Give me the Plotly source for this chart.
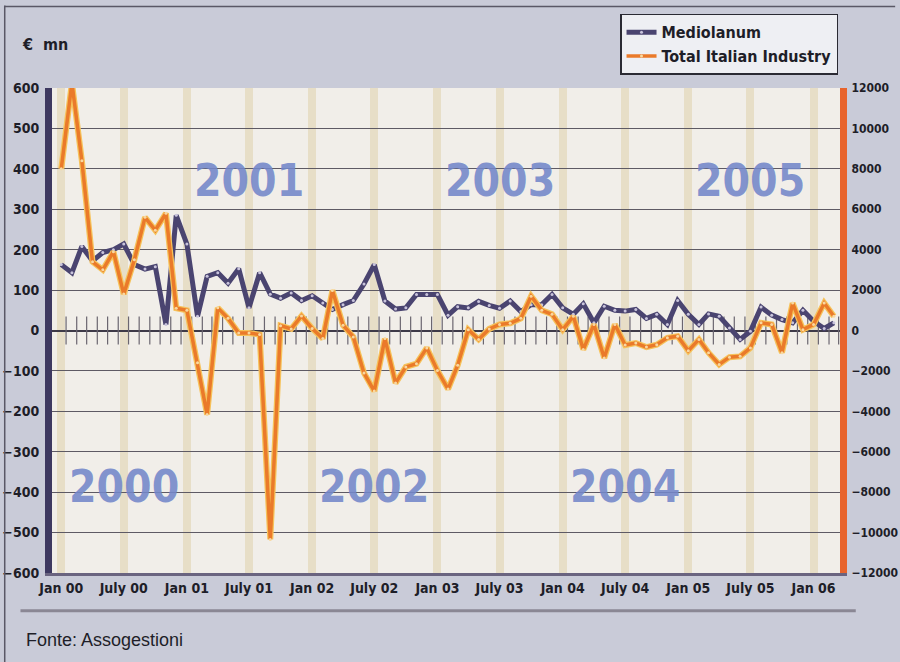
import pandas as pd
import plotly.graph_objects as go

# ---- data (Jan 2000 .. Mar 2006, monthly net flows, € mn) ----
months = pd.date_range("2000-01-01", "2006-03-01", freq="MS")

mediolanum = [163, 143, 208, 172, 193, 200, 214, 163, 152, 158, 15, 285,
              214, 35, 134, 143, 117, 153, 56, 143, 90, 80, 93, 74,
              86, 68, 52, 64, 74, 115, 163, 73, 53, 56, 89, 89,
              89, 38, 59, 56, 72, 62, 55, 73, 47, 64, 64, 89,
              56, 40, 66, 19, 60, 50, 48, 52, 30, 40, 15, 74,
              40, 15, 41, 35, 6, -22, -2, 58, 38, 27, 19, 50,
              23, 5, 19]

total_industry = [8000, 12260, 8400, 3400, 3000, 3900, 1800, 3500, 5600, 4960, 5800, 1100,
                  1000, -1600, -4160, 1120, 600, -120, -120, -200, -10340, 240, 80, 720,
                  100, -400, 1980, 260, -320, -2100, -3000, -400, -2600, -1800, -1640, -860,
                  -1980, -2900, -1720, 40, -440, 80, 300, 360, 600, 1700, 1000, 800,
                  40, 700, -940, 300, -1360, 300, -720, -620, -820, -700, -360, -280,
                  -1000, -440, -1100, -1680, -1320, -1280, -860, 380, 300, -1100, 1360, 40,
                  300, 1360, 700]

tick_dates = pd.date_range("2000-01-01", "2006-01-01", freq="6MS")
tick_labels = ["Jan 00", "July 00", "Jan 01", "July 01", "Jan 02", "July 02", "Jan 03",
               "July 03", "Jan 04", "July 04", "Jan 05", "July 05", "Jan 06"]

left_ticks = list(range(-600, 601, 100))
right_ticks = list(range(-12000, 12001, 2000))

year_labels = ["2000", "2001", "2002", "2003", "2004", "2005"]
year_rows = [-385, 370, -385, 370, -385, 370]

FONT = "DejaVu Sans Condensed, DejaVu Sans, sans-serif"
NAVY = "#4a4470"
ORANGE = "#ea7a2a"

def cfont(size, color="#1e1e28", weight="bold"):
    return dict(family=FONT, size=size, color=color, weight=weight)

fig = go.Figure()

# monthly tick marks across the zero line
fig.add_trace(go.Scatter(
    x=months + pd.Timedelta(days=14), y=[0] * len(months), mode="markers",
    marker=dict(symbol="line-ns", size=20, line=dict(color="#6b6670", width=1.2)),
    showlegend=False, hoverinfo="skip"))

fig.add_trace(go.Scatter(
    x=months, y=mediolanum, name="Mediolanum", mode="lines+markers",
    line=dict(color=NAVY, width=5),
    marker=dict(size=3, color="#c9c4dc"),
    yaxis="y"))

fig.add_trace(go.Scatter(
    x=months, y=total_industry, mode="lines", showlegend=False, hoverinfo="skip",
    line=dict(color="#f6c25a", width=6), yaxis="y2"))
fig.add_trace(go.Scatter(
    x=months, y=total_industry, name="Total Italian Industry", mode="lines+markers",
    line=dict(color=ORANGE, width=3.5),
    marker=dict(size=3, color="#f8d9a0"),
    yaxis="y2"))

annotations = []
for yl, yv in zip(year_labels, year_rows):
    annotations.append(dict(
        x=pd.Timestamp(f"{yl}-07-01"), y=yv, xref="x", yref="y", text=yl,
        showarrow=False, font=cfont(44, "rgba(115,135,202,0.88)")))
annotations.append(dict(x=-0.04, y=1.089, xref="paper", yref="paper", text="€  mn",
                        showarrow=False, xanchor="left", yanchor="middle", font=cfont(16)))
annotations.append(dict(x=-0.035, y=-0.138, xref="paper", yref="paper",
                        text="Fonte: Assogestioni", showarrow=False, xanchor="left",
                        yanchor="middle",
                        font=dict(family="Liberation Sans, Arial, sans-serif", size=18,
                                  color="#1e1e28")))

shapes = [
    dict(type="line", xref="paper", yref="paper", x0=-0.04, x1=1.02, y0=-0.078, y1=-0.078,
         line=dict(color="#8a8794", width=3)),
    dict(type="line", xref="paper", yref="paper", x0=-0.06, x1=-0.06, y0=-0.19, y1=1.17,
         line=dict(color="#5a5866", width=1.5)),
    dict(type="line", xref="paper", yref="paper", x0=-0.06, x1=1.07, y0=1.168, y1=1.168,
         line=dict(color="#5a5866", width=1.5)),
]

fig.update_layout(
    width=900, height=662,
    margin=dict(l=52, r=60, t=88, b=89, autoexpand=False),
    paper_bgcolor="#c9cbd8",
    plot_bgcolor="#f1eee9",
    font=dict(family=FONT, color="#1e1e28"),
    showlegend=True,
    legend=dict(x=0.9975, y=1.153, xanchor="right", yanchor="top",
                bgcolor="rgba(240,240,244,0.95)", bordercolor="#2a2a33", borderwidth=1.5,
                font=cfont(16), tracegroupgap=4),
    xaxis=dict(
        type="date", range=["1999-12-05", "2006-03-19"], automargin=False,
        tickvals=list(tick_dates), ticktext=tick_labels,
        showgrid=True, gridcolor="rgba(220,202,158,0.45)", gridwidth=8,
        showline=True, linecolor="#6a6480", linewidth=3,
        ticks="", tickfont=cfont(14), zeroline=False),
    yaxis=dict(
        range=[-600, 600], tickvals=left_ticks, automargin=False,
        showgrid=True, gridcolor="#5e5a64", gridwidth=1,
        zeroline=True, zerolinecolor="#3e3a48", zerolinewidth=1.6,
        showline=True, linecolor="#3d3860", linewidth=7,
        ticks="", ticklabelstandoff=3, tickfont=cfont(14)),
    yaxis2=dict(
        range=[-12000, 12000], tickvals=right_ticks, overlaying="y", side="right",
        automargin=False, tickformat="d",
        showgrid=False, zeroline=False,
        showline=True, linecolor="#e8642c", linewidth=7,
        ticks="", ticklabelstandoff=2, tickfont=cfont(12)),
    annotations=annotations,
    shapes=shapes,
)

fig.write_html("out.html", config={"displayModeBar": False},
               post_script="document.body.style.margin='0';document.body.style.overflow='hidden';")
